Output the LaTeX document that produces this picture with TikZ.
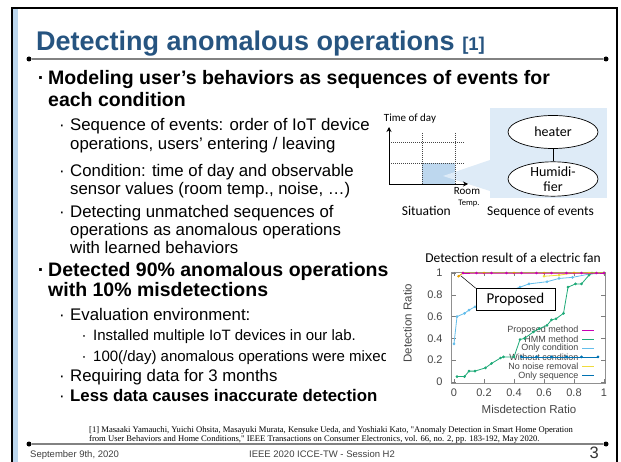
\documentclass[tikz,border=0pt]{standalone}
\usepackage{fontspec}
\setmainfont{Liberation Sans}
\newfontfamily\carl{Carlito}
\newfontfamily\tms{Liberation Serif}
\usetikzlibrary{arrows.meta,shapes.geometric}

\definecolor{titleblue}{RGB}{38,84,128}
\definecolor{panelblue}{RGB}{222,235,247}
\definecolor{cellblue}{RGB}{189,215,238}
\definecolor{stripblue}{RGB}{189,215,238}
\definecolor{rulegray}{RGB}{130,130,130}
\definecolor{plotgray}{RGB}{70,70,70}
\definecolor{cpurple}{RGB}{200,0,180}
\definecolor{cgreen}{RGB}{30,170,120}
\definecolor{clblue}{RGB}{100,190,235}
\definecolor{corange}{RGB}{230,159,0}
\definecolor{cyellow}{RGB}{240,220,60}
\definecolor{cblue}{RGB}{0,114,178}

\tikzset{
  lvlone/.style={anchor=base west, inner sep=0pt, font=\fontsize{19.5}{22}\bfseries\selectfont},
  lvltwo/.style={anchor=base west, inner sep=0pt, font=\fontsize{16.8}{19}\selectfont},
  lvltwob/.style={anchor=base west, inner sep=0pt, font=\fontsize{16.8}{19}\bfseries\selectfont},
  lvlthree/.style={anchor=base west, inner sep=0pt, font=\fontsize{15}{17}\selectfont},
  dotone/.style={anchor=base, inner sep=0pt, font=\fontsize{19.5}{22}\bfseries\selectfont},
  dottwo/.style={anchor=base, inner sep=0pt, font=\fontsize{16.8}{19}\selectfont},
  dotthree/.style={anchor=base, inner sep=0pt, font=\fontsize{15}{17}\selectfont},
  rulebar/.style={rulegray, line width=1.6pt},
  ruleend/.style={circle, fill=black, inner sep=0pt, minimum size=5pt},
  diagtext/.style={inner sep=0pt, font=\carl\fontsize{13.5}{15}\selectfont},
  seqnode/.style={ellipse, draw=black, line width=0.7pt, fill=white, minimum width=90pt, minimum height=33pt, inner sep=0pt, align=center, font=\carl\fontsize{14}{14.5}\selectfont},
  gridline/.style={plotgray, line width=0.5pt, dash pattern=on 1pt off 1pt},
  ticklab/.style={inner sep=0pt, text=plotgray, font=\fontsize{11}{12}\selectfont},
  legtext/.style={anchor=east, inner sep=0pt, text=plotgray, font=\fontsize{9}{10}\selectfont},
  curve/.style={line width=0.8pt, mark=*, mark size=0.9pt},
}

\begin{document}
\begin{tikzpicture}[x=1pt,y=-1pt]
\useasboundingbox (0,0) rectangle (621,462);
\fill[white] (0,0) rectangle (621,462);

% slide frame with its light strip on the left
\fill[stripblue] (13,8) rectangle (17.5,462);
\draw[line width=2.4pt] (12,463) -- (12,8) -- (617,8) -- (617,463);

% title and rules
\node[anchor=base west, inner sep=0pt, text=titleblue, font=\fontsize{27}{30}\bfseries\selectfont] (title) at (36,51)
  {Detecting anomalous operations {\fontsize{18.5}{20}\selectfont [1]}};
\node[ruleend] (tl) at (29,59) {};
\node[ruleend] (tr) at (606,59) {};
\draw[rulebar] (tl) -- (tr);
\node[ruleend] (bl) at (29,444) {};
\node[ruleend] (br) at (606,444) {};
\draw[rulebar] (bl) -- (br);

% body text
\node[dotone] (b1) at (41,85) {·};
\node[lvlone] (t1a) at (48,85) {Modeling user’s behaviors as sequences of events for};
\node[lvlone] (t1b) at (48,107) {each condition};
\node[dottwo] (b11) at (62,130.5) {·};
\node[lvltwo] (t11a) at (70,130.5) {Sequence of events: order of IoT device};
\node[lvltwo] (t11b) at (70,149.5) {operations, users’ entering / leaving};
\node[dottwo] (b12) at (62,176.5) {·};
\node[lvltwo] (t12a) at (70,176.5) {Condition: time of day and observable};
\node[lvltwo] (t12b) at (70,194.5) {sensor values (room temp., noise, …)};
\node[dottwo] (b13) at (62,217.5) {·};
\node[lvltwo] (t13a) at (70,217.5) {Detecting unmatched sequences of};
\node[lvltwo] (t13b) at (70,236) {operations as anomalous operations};
\node[lvltwo] (t13c) at (70,254) {with learned behaviors};

\node[dotone] (b2) at (41,277) {·};
\node[lvlone] (t2a) at (48,277) {Detected 90\% anomalous operations};
\node[lvlone] (t2b) at (48,297) {with 10\% misdetections};
\node[dottwo] (b21) at (62,320.5) {·};
\node[lvltwo] (t21) at (70,320.5) {Evaluation environment:};
\node[dotthree] (b211) at (84,341) {·};
\node[lvlthree] (t211) at (93,341) {Installed multiple IoT devices in our lab.};
\node[dotthree] (b212) at (84,361) {·};
\begin{scope}
  \clip (0,0) rectangle (385,462);
  \node[lvlthree] (t212) at (93,361) {100(/day) anomalous operations were mixed};
\end{scope}
\node[dottwo] (b22) at (62,381.5) {·};
\node[lvltwo] (t22) at (70,381.5) {Requiring data for 3 months};
\node[dottwo] (b23) at (62,401.5) {·};
\node[lvltwob] (t23) at (70,401.5) {Less data causes inaccurate detection};

% reference
\node[anchor=base west, inner sep=0pt, font=\tms\fontsize{8.6}{9}\selectfont] (ref1) at (89,432)
  {[1] Masaaki Yamauchi, Yuichi Ohsita, Masayuki Murata, Kensuke Ueda, and Yoshiaki Kato, "Anomaly Detection in Smart Home Operation};
\node[anchor=base west, inner sep=0pt, font=\tms\fontsize{8.6}{9}\selectfont] (ref2) at (89,441)
  {from User Behaviors and Home Conditions," IEEE Transactions on Consumer Electronics, vol. 66, no. 2, pp. 183-192, May 2020.};

% footer
\node[anchor=base west, inner sep=0pt, text=black!75, font=\fontsize{9.5}{10}\selectfont] (date) at (30,457.5) {September 9th, 2020};
\node[anchor=base, inner sep=0pt, text=black!75, font=\fontsize{9.5}{10}\selectfont] (conf) at (322,457.5) {IEEE 2020 ICCE-TW - Session H2};
\node[anchor=base east, inner sep=0pt, text=black!80, font=\fontsize{16.5}{17}\selectfont] (pageno) at (599,458.5) {3};

% situation chart and sequence of events
\fill[panelblue] (490,108) rectangle (607,198);
\fill[cellblue] (422,163) rectangle (455,184);
\fill[panelblue] (443,176) -- (490,160) -- (490,191) -- cycle;
\draw[gridline] (389,142) -- (465,142);
\draw[gridline] (389,163) -- (465,163);
\draw[gridline] (422,133) -- (422,184);
\draw[gridline] (455,133) -- (455,184);
\coordinate (origin) at (389,184);
\coordinate (yend) at (389,127);
\coordinate (xend) at (468,184);
\draw[line width=0.9pt, -{Stealth[length=5pt,width=5pt]}] (origin) -- (yend);
\draw[line width=0.9pt, -{Stealth[length=5pt,width=5pt]}] (origin) -- (xend);
\node[diagtext, font=\carl\fontsize{11}{12}\selectfont] (tod) at (410,119) {Time of day};
\node[diagtext, font=\carl\fontsize{11}{12}\selectfont] (room) at (467,191) {Room};
\node[diagtext, font=\carl\fontsize{8.5}{9}\selectfont] (temp) at (469,203) {Temp.};
\node[diagtext, anchor=base east] (situ) at (451,216) {Situation};
\node[diagtext, anchor=base west] (seqlab) at (487,216) {Sequence of events};
\node[seqnode] (heater) at (553,132) {heater};
\node[seqnode] (humid) at (553,179) {Humidi-\\fier};
\draw[line width=0.7pt] (heater) -- (humid);

% detection result plot
\node[diagtext] (ptitle) at (513,258) {Detection result of a electric fan};
\begin{scope}[shift={(454,382)}, x=150pt, y=109pt]
  \draw[plotgray!60, line width=0.6pt] (-0.015,-0.01) rectangle (1.01,1.01);
  \foreach \v/\lab in {0/0,0.2/0.2,0.4/0.4,0.6/0.6,0.8/0.8,1/1} {
    \draw[plotgray!70, line width=0.5pt] (-0.015,\v) -- ++(0.03,0);
    \draw[plotgray!70, line width=0.5pt] (1.01,\v) -- ++(-0.03,0);
    \draw[plotgray!70, line width=0.5pt] (\v,-0.01) -- ++(0,0.04);
    \draw[plotgray!70, line width=0.5pt] (\v,1.01) -- ++(0,-0.04);
    \node[ticklab, anchor=east] at (-0.075,\v) {\lab};
    \node[ticklab, anchor=north] at (\v,-0.065) {\lab};
  }
  \node[ticklab, font=\fontsize{11.5}{12}\selectfont] (xlab) at (0.5,-0.255) {Misdetection Ratio};
  \node[ticklab, font=\fontsize{11.5}{12}\selectfont, rotate=90] (ylab) at (-0.31,0.54) {Detection Ratio};

  % legend
  \node[legtext] (l1) at (0.83,0.477) {Proposed method};
  \node[legtext] (l2) at (0.83,0.392) {HMM method};
  \node[legtext] (l3) at (0.83,0.309) {Only condition};
  \node[legtext] (l4) at (0.83,0.223) {Without condition};
  \node[legtext] (l5) at (0.83,0.14) {No noise removal};
  \node[legtext] (l6) at (0.83,0.058) {Only sequence};
  \draw[curve, cpurple] (0.855,0.477) -- (0.93,0.477);
  \draw[curve, cgreen] (0.855,0.392) -- (0.93,0.392);
  \draw[curve, clblue] (0.855,0.309) -- (0.93,0.309);
  \draw[curve, corange] (0.855,0.223) -- (0.93,0.223);
  \draw[curve, cyellow] (0.855,0.14) -- (0.93,0.14);
  \draw[curve, cblue] (0.855,0.058) -- (0.93,0.058);

  % curves
  \draw[curve, cblue] plot coordinates {(0.45,0.23) (0.55,0.23) (0.65,0.23) (0.75,0.23) (0.85,0.23) (0.96,0.23)};
  \draw[curve, clblue] plot coordinates {(0,0.35) (0.02,0.6) (0.07,0.63) (0.1,0.66) (0.14,0.69) (0.2,0.74) (0.27,0.78) (0.33,0.81) (0.4,0.85) (0.44,0.87) (0.5,0.9) (0.62,0.92) (0.7,0.95) (0.79,0.96) (0.9,0.99) (1,1)};
  \draw[curve, cgreen] plot coordinates {(0.02,0.05) (0.07,0.05) (0.1,0.1) (0.14,0.1) (0.21,0.13) (0.25,0.17) (0.31,0.22) (0.33,0.23) (0.4,0.23) (0.44,0.39) (0.47,0.4) (0.53,0.46) (0.57,0.49) (0.62,0.52) (0.65,0.57) (0.68,0.58) (0.73,0.63) (0.76,0.87) (0.81,0.9) (0.85,0.9) (0.9,0.98) (0.92,1) (1,1)};
  \draw[curve, cyellow] plot coordinates {(0.6,0.97) (0.7,0.98) (0.8,1) (0.9,1) (1,1)};
  \draw[curve, corange] plot coordinates {(0.03,0.97) (0.06,1) (0.2,1) (0.4,1) (0.6,1) (0.8,1) (1,1)};
  \draw[curve, cpurple] plot coordinates {(0.06,1) (0.15,1) (0.25,1) (0.35,1) (0.45,1) (0.55,1) (0.65,1) (0.75,1) (0.85,1) (0.95,1) (1,1)};
  \coordinate (ptip) at (0.045,0.975);
\end{scope}

% callout naming the proposed curve
\node[draw=black, line width=0.7pt, fill=white, minimum width=79pt, minimum height=22pt, inner sep=0pt, font=\carl\fontsize{15}{16}\selectfont] (callout) at (515.5,299.5) {Proposed};
\draw[line width=0.5pt] (ptip) -- (callout.north west);
\end{tikzpicture}
\end{document}
